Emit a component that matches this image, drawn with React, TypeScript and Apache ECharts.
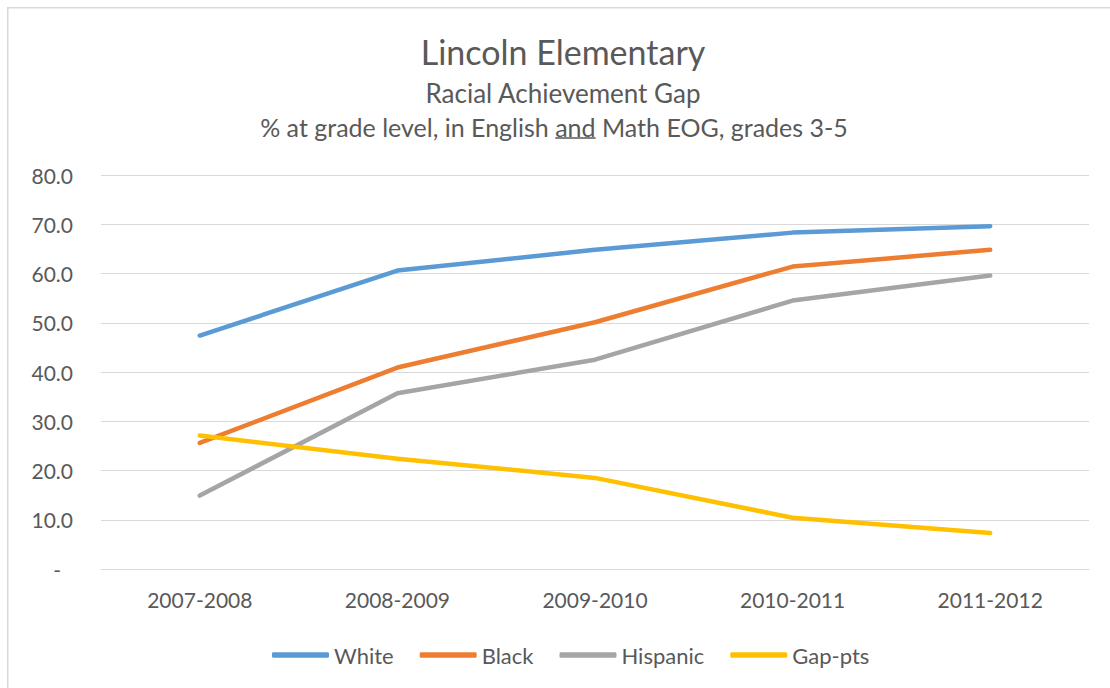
import React, { useEffect, useRef } from "react";
import * as echarts from "echarts";

const categories = ["2007-2008", "2008-2009", "2009-2010", "2010-2011", "2011-2012"];
const white = [47.4, 60.6, 64.8, 68.3, 69.6];
const black = [25.6, 40.9, 50.1, 61.4, 64.8];
const hispanic = [14.9, 35.7, 42.5, 54.5, 59.6];
const gapPts = [27.1, 22.4, 18.5, 10.4, 7.3];

const seriesNames = ["White", "Black", "Hispanic", "Gap-pts"];
const seriesColors = ["#5B9BD5", "#ED7D31", "#A5A5A5", "#FFC000"];

const titleText = "Lincoln Elementary";
const subtitle1 = "Racial Achievement Gap";
const subtitle2a = "% at grade level, in English";
const subtitle2b = "and";
const subtitle2c = "Math EOG, grades 3-5";

const FONT = "Lato";
const TEXT = "#595959";
const GRID = "#D9D9D9";

function measure(text: string, size: number): number {
  const c = document.createElement("canvas");
  const ctx = c.getContext("2d");
  if (!ctx) return text.length * size * 0.5;
  ctx.font = `${size}px ${FONT}`;
  return ctx.measureText(text).width;
}

export default function App() {
  const ref = useRef<HTMLDivElement>(null);

  useEffect(() => {
    if (!ref.current) return;
    const chart = echarts.init(ref.current, undefined, { renderer: "svg" });

    const sub1Size = 26;
    const subSize = 25;
    const cx3 = 547;
    const cy3 = 120;
    const wA = measure(subtitle2a, subSize);
    const wB = measure(subtitle2b, subSize);
    const wC = measure(subtitle2c, subSize);
    const sp = measure(" ", subSize);
    const total = wA + sp + wB + sp + wC;
    const x0 = cx3 - total / 2;
    const xB = x0 + wA + sp;
    const xC = xB + wB + sp;

    const data = [white, black, hispanic, gapPts];

    chart.setOption({
      animation: false,
      backgroundColor: "#ffffff",
      textStyle: { fontFamily: FONT },
      grid: { left: 94, right: 21, top: 168, bottom: 119, containLabel: false },
      legend: {
        data: seriesNames,
        left: 260,
        top: 632,
        icon: "roundRect",
        itemWidth: 57,
        itemHeight: 5.5,
        itemGap: 26,
        textStyle: { color: TEXT, fontSize: 22, fontFamily: FONT },
      },
      xAxis: {
        type: "category",
        data: categories,
        boundaryGap: true,
        axisLine: { show: true, lineStyle: { color: GRID, width: 1 } },
        axisTick: { show: false },
        axisLabel: { color: TEXT, fontSize: 21, fontFamily: FONT, margin: 20 },
      },
      yAxis: {
        type: "value",
        min: 0,
        max: 80,
        interval: 10,
        axisLine: { show: false },
        axisTick: { show: false },
        splitLine: { show: true, lineStyle: { color: GRID, width: 1 } },
        axisLabel: {
          color: TEXT,
          fontSize: 21,
          fontFamily: FONT,
          margin: 28,
          formatter: (v: number) => (v === 0 ? "{z|-}" : v.toFixed(1)),
          rich: { z: { color: TEXT, fontSize: 21, fontFamily: FONT, padding: [0, 12, 0, 0] } },
        },
      },
      series: seriesNames.map((name, i) => ({
        name,
        type: "line",
        data: data[i],
        showSymbol: false,
        symbol: "none",
        smooth: false,
        lineStyle: { color: seriesColors[i], width: 4.5, cap: "round", join: "round" },
        itemStyle: { color: seriesColors[i] },
      })),
      graphic: [
        {
          type: "rect",
          shape: { x: 0.75, y: 0.75, width: 1200, height: 800 },
          style: { fill: "none", stroke: GRID, lineWidth: 1.5 },
          silent: true,
        },
        {
          type: "text",
          x: 556,
          y: 44,
          style: { text: titleText, fill: TEXT, fontSize: 34, fontFamily: FONT, align: "center", verticalAlign: "middle" },
        },
        {
          type: "text",
          x: 556,
          y: 86,
          style: { text: subtitle1, fill: TEXT, fontSize: sub1Size, fontFamily: FONT, align: "center", verticalAlign: "middle" },
        },
        {
          type: "text",
          x: x0,
          y: cy3,
          style: { text: subtitle2a, fill: TEXT, fontSize: subSize, fontFamily: FONT, align: "left", verticalAlign: "middle" },
        },
        {
          type: "text",
          x: xB,
          y: cy3,
          style: { text: subtitle2b, fill: TEXT, fontSize: subSize, fontFamily: FONT, align: "left", verticalAlign: "middle" },
        },
        {
          type: "text",
          x: xC,
          y: cy3,
          style: { text: subtitle2c, fill: TEXT, fontSize: subSize, fontFamily: FONT, align: "left", verticalAlign: "middle" },
        },
        {
          type: "line",
          shape: { x1: xB, y1: cy3 + 11, x2: xB + wB, y2: cy3 + 11 },
          style: { stroke: TEXT, lineWidth: 1.3 },
        },
      ],
    });

    return () => chart.dispose();
  }, []);

  return (
    <div
      ref={ref}
      style={{ position: "fixed", left: 7, top: 7, width: 1103, height: 681 }}
    />
  );
}
